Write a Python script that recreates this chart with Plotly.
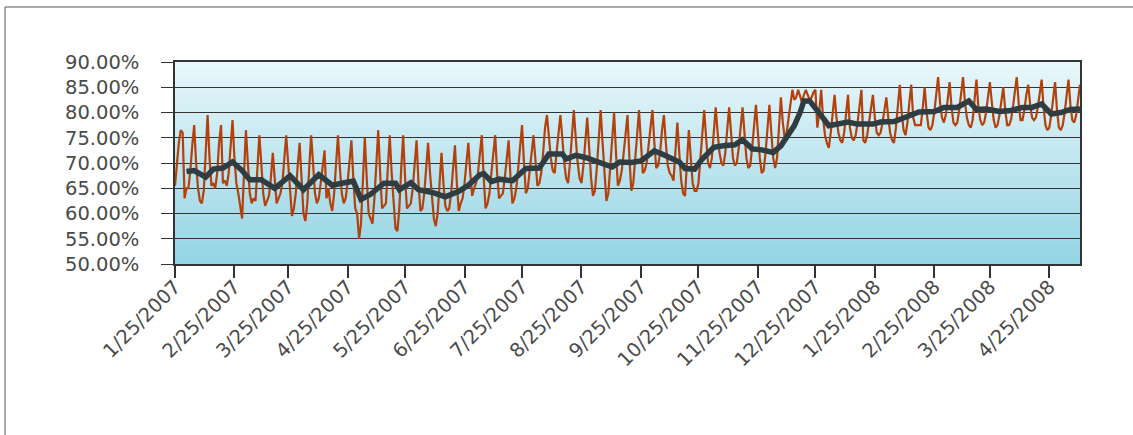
import pandas as pd
import plotly.graph_objects as go

# ---- data -------------------------------------------------------------
start_date = "2007-01-25"

# daily rate (%) from 1/25/2007, one value per day
rate = [
    65.5, 70, 74, 76.5, 76, 63, 65, 65, 68.5, 73.5, 77.5,
    70, 65, 62.5, 62, 64.5, 72, 79.5,
    71, 65.5, 66, 65, 68, 74, 77.5,
    66, 66.5, 65.5, 68, 73, 78.5,
    71, 66, 64, 61, 59, 68, 76.5,
    70, 64, 62, 63, 62.5, 68.5, 75.5,
    70, 64, 61.5, 62.5, 63.5, 67, 72,
    67, 62, 63, 64, 66, 71, 75.5,
    70, 64, 59.5, 61, 64, 69.5, 74,
    67, 60, 58.5, 62, 69, 75.5,
    70, 64, 62, 63, 66, 70, 72.5,
    63, 65, 62, 60.5, 64, 70.5, 75.5,
    69, 64, 62, 63, 66, 71, 74.5,
    67, 61, 60, 55, 58, 68, 75,
    67, 60, 59, 58, 63, 70, 76.5,
    68, 61, 61.5, 62, 69, 75.5,
    68, 62, 57, 56.5, 61, 69, 75.5,
    67, 61, 61.5, 62, 65, 70, 74.5,
    66, 60.5, 61, 64, 69, 74,
    68, 63, 59, 57.5, 60, 66, 72,
    66, 61.5, 60.5, 61, 64, 69, 73.5,
    66, 60.5, 62, 63, 66, 70, 74,
    68, 63.5, 65, 66, 68, 72, 75.5,
    67, 61, 62, 64, 68, 72.5, 75.5,
    68, 63, 63.5, 64, 67, 71.5, 74.5,
    67, 62, 63, 65, 69, 74, 77.5,
    70, 64, 65, 68, 72, 75.5,
    70, 65.5, 66, 68, 72, 77, 79.5,
    75, 71, 68.5, 68, 72, 76, 79.5,
    75, 70, 67, 66, 70, 75.5, 80.5,
    75, 70, 67, 66, 69.5, 74.5, 79,
    73, 67, 63.5, 64.5, 69, 75, 80.5,
    74, 67, 62.5, 64, 69, 75, 80,
    72, 65.5, 66.5, 68.5, 72, 76.5, 79.5,
    71, 64.5, 66, 70, 75.5, 80.5,
    73, 68, 68.5, 70, 73.5, 77.5, 80.5,
    74, 69, 69.5, 72, 76.5, 79.5,
    74, 69.5, 68, 67.5, 66.5, 72, 78,
    72, 66.5, 64, 63.5, 70, 76.5,
    71, 66, 64.5, 64.5, 66, 71, 76.5, 80.5,
    75, 70, 69, 71, 76, 81,
    76, 72, 70, 69.5, 72, 77, 81,
    76, 71, 69.5, 70, 73, 77.5, 81,
    76, 71, 69, 69.5, 73, 78, 81.5,
    76, 71, 68, 68.5, 72, 77, 81.5,
    76, 71, 69, 71, 77, 83,
    78, 75, 76, 79, 82.5, 84.5,
    82.5, 83, 84.5, 83, 82, 83.5, 84.5, 83.5, 82.5, 83, 84, 84.5, 77, 80, 84.5,
    79, 75.5, 74, 73, 76, 80, 83.5,
    79, 76, 74.5, 74, 76, 80, 83.5,
    77, 75, 74.5, 75.5, 78, 81.5, 84.5,
    74.5, 74, 75.5, 78, 81, 83.5,
    79, 76, 75.5, 76, 78, 80.5, 83,
    79, 76, 74.5, 74, 77, 81.5, 85.5,
    80, 76.5, 75.5, 78, 82, 85.5,
    79, 77.5, 77.5, 77.5, 77.5, 81, 85,
    80, 77, 76.5, 77.5, 80, 84, 87,
    82, 79, 78, 79.5, 82.5, 86,
    81, 78, 77.5, 78, 80.5, 84, 87,
    82, 79, 77.5, 77, 78.5, 82.5, 86.5,
    81, 78.5, 77.5, 78, 80, 83, 86,
    82, 78.5, 77, 77.5, 79.5, 82.5, 85,
    80.5, 77.5, 77.5, 78.5, 81, 84.5, 87,
    82, 78.5, 78.5, 80.5, 83.5, 85.5,
    81.5, 79, 78.5, 79, 81, 84, 86.5,
    81, 77.5, 76.5, 77, 79.5, 83, 86,
    80.5, 77, 76.5, 77.5, 80, 83.5, 86.5,
    81.5, 78.5, 78, 79.5, 82.5, 85.5,
]

# moving-average trend line (day offset from start, %)
ma_day = [6, 10, 16, 20, 25, 30, 35, 39, 45, 52, 60, 67, 75, 82, 87, 93, 97,
          102, 109, 115, 117, 123, 127, 135, 141, 148, 153, 159, 161, 165, 169,
          176, 183, 190, 195, 202, 204, 209, 214, 221, 228, 232, 238, 243, 250,
          254, 258, 263, 266, 271, 275, 281, 286, 292, 296, 301, 306, 312, 316,
          321, 323, 326, 328, 331, 334, 337, 341, 347, 351, 356, 364, 368, 375,
          382, 388, 396, 401, 408, 414, 418, 423, 430, 436, 442, 447, 452, 457,
          462, 467, 472]
ma_val = [68.3, 68.5, 67.2, 68.8, 69.0, 70.2, 68.5, 66.7, 66.7, 65.0, 67.5,
          64.7, 67.7, 65.6, 66.0, 66.4, 62.8, 63.8, 66.0, 66.0, 64.7, 66.1,
          64.7, 64.1, 63.3, 64.4, 65.6, 67.7, 67.9, 66.3, 66.8, 66.5, 68.9,
          69.0, 71.8, 71.8, 70.8, 71.5, 71.1, 70.1, 69.2, 70.2, 70.1, 70.4,
          72.4, 71.8, 71.1, 70.2, 68.9, 68.8, 70.8, 73.1, 73.4, 73.6, 74.6,
          72.8, 72.6, 72.1, 73.4, 76.4, 77.4, 80.0, 82.3, 82.3, 81.0, 79.4,
          77.4, 77.7, 78.1, 77.7, 77.7, 78.1, 78.2, 79.2, 80.1, 80.2, 81.0,
          81.0, 82.3, 80.6, 80.7, 80.2, 80.4, 81.0, 81.0, 81.7, 79.7, 80.0,
          80.6, 80.7]

tick_dates = ["2007-01-25", "2007-02-25", "2007-03-25", "2007-04-25",
              "2007-05-25", "2007-06-25", "2007-07-25", "2007-08-25",
              "2007-09-25", "2007-10-25", "2007-11-25", "2007-12-25",
              "2008-01-25", "2008-02-25", "2008-03-25", "2008-04-25"]
tick_labels = ["1/25/2007", "2/25/2007", "3/25/2007", "4/25/2007",
               "5/25/2007", "6/25/2007", "7/25/2007", "8/25/2007",
               "9/25/2007", "10/25/2007", "11/25/2007", "12/25/2007",
               "1/25/2008", "2/25/2008", "3/25/2008", "4/25/2008"]
y_ticks = [50, 55, 60, 65, 70, 75, 80, 85, 90]
y_labels = ["50.00%", "55.00%", "60.00%", "65.00%", "70.00%",
            "75.00%", "80.00%", "85.00%", "90.00%"]

# ---- figure -----------------------------------------------------------
start = pd.Timestamp(start_date)
dates = pd.date_range(start, periods=len(rate), freq="D")
ma_dates = [start + pd.Timedelta(days=d) for d in ma_day]

fig = go.Figure()
fig.add_trace(go.Scatter(x=dates, y=rate, mode="lines",
                         line=dict(color="#B4410C", width=2.2),
                         showlegend=False, hoverinfo="skip"))
fig.add_trace(go.Scatter(x=ma_dates, y=ma_val, mode="lines",
                         line=dict(color="#2F3D42", width=5.5),
                         showlegend=False, hoverinfo="skip"))

# vertical gradient plot background (overlapping bands to avoid seams)
shapes = []
N = 50
top = (233, 247, 251)
bot = (147, 212, 228)
for i in range(N):
    t = (i + 0.5) / N
    c = tuple(round(bot[k] + (top[k] - bot[k]) * t) for k in range(3))
    shapes.append(dict(type="rect", xref="paper", yref="paper",
                       x0=0, x1=1, y0=i / N, y1=min(1.0, (i + 2) / N),
                       fillcolor="rgb(%d,%d,%d)" % c, line=dict(width=0),
                       layer="below"))
# outer chart border
shapes.append(dict(type="rect", xref="paper", yref="paper",
                   x0=(5 - 175) / 905, x1=1.3, y0=-1.0, y1=(264 - 7) / 202,
                   line=dict(color="#555555", width=1), fillcolor="rgba(0,0,0,0)",
                   layer="below"))

font = dict(family="DejaVu Sans", size=19.5, color="#4a4a4a")

fig.update_layout(
    width=1133, height=435,
    margin=dict(l=175, r=53, t=62, b=171),
    paper_bgcolor="white",
    plot_bgcolor="white",
    shapes=shapes,
    font=font,
    xaxis=dict(type="date", range=[start_date, "2008-05-11"],
               tickvals=tick_dates, ticktext=tick_labels, tickangle=-45,
               showgrid=False, ticks="outside", ticklen=12, tickwidth=1.5,
               tickcolor="#333333", showline=True, linecolor="#333333",
               linewidth=1.5, mirror=True, tickfont=font, zeroline=False,
               ticklabelstandoff=-10),
    yaxis=dict(range=[50, 90], tickvals=y_ticks, ticktext=y_labels,
               showgrid=True, gridcolor="#333333",
               gridwidth=1.4, ticks="outside", ticklen=12, tickwidth=1.4,
               tickcolor="#333333", showline=True, linecolor="#333333",
               linewidth=1.5, mirror=True, tickfont=font, zeroline=False,
               ticklabelstandoff=18),
)

fig.write_html("out.html", config={"displayModeBar": False},
               post_script="document.body.style.margin='0';")
